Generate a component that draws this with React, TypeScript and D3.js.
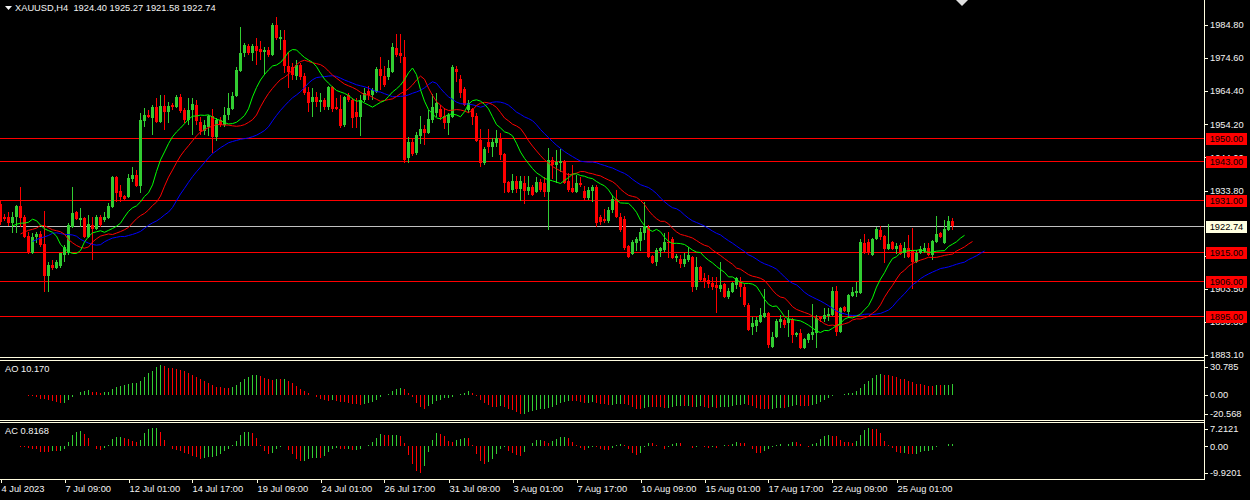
import React, { useEffect, useRef } from "react";
import * as d3 from "d3";

// XAUUSD H4 candles (oldest first)
const opens = [
  1929.6, 1925.6, 1925.6, 1923.8, 1925.6, 1929.0, 1925.6, 1919.8, 1914.5, 1919.5,
  1920.4, 1917.3, 1907.4, 1910.8, 1909.9, 1910.5, 1913.9, 1914.5, 1922.5, 1927.2,
  1924.7, 1925.3, 1919.5, 1923.2, 1921.9, 1925.6, 1924.7, 1925.3, 1928.7, 1938.0,
  1933.6, 1932.1, 1931.8, 1937.3, 1938.6, 1935.2, 1955.2, 1957.1, 1956.1, 1959.5,
  1954.9, 1959.8, 1958.0, 1960.1, 1959.5, 1962.6, 1958.6, 1955.5, 1958.6, 1960.1,
  1954.9, 1952.1, 1953.4, 1956.8, 1950.3, 1955.5, 1954.0, 1957.1, 1958.9, 1962.9,
  1970.6, 1976.2, 1978.3, 1976.2, 1978.3, 1977.4, 1976.5, 1977.1, 1975.5, 1984.8,
  1980.5, 1980.2, 1972.2, 1971.9, 1969.1, 1972.5, 1969.1, 1964.1, 1961.1, 1962.6,
  1961.1, 1961.7, 1959.5, 1965.7, 1959.5, 1958.9, 1954.0, 1963.2, 1961.7, 1958.0,
  1956.4, 1961.7, 1964.5, 1963.2, 1964.1, 1971.2, 1969.1, 1968.8, 1970.3, 1977.7,
  1976.2, 1974.9, 1943.8, 1948.7, 1945.4, 1950.6, 1952.7, 1951.5, 1955.5, 1957.7,
  1958.9, 1956.8, 1954.6, 1956.4, 1971.2, 1968.2, 1965.1, 1958.6, 1958.9, 1956.8,
  1949.4, 1942.3, 1948.7, 1947.2, 1948.4, 1950.0, 1945.0, 1936.4, 1934.0, 1936.7,
  1934.3, 1936.1, 1933.6, 1934.9, 1933.3, 1936.4, 1936.1, 1933.3, 1943.2, 1941.6,
  1942.3, 1942.9, 1936.7, 1934.6, 1933.3, 1936.1, 1933.6, 1931.5, 1933.6, 1934.9,
  1925.6, 1925.0, 1924.4, 1927.8, 1931.2, 1925.6, 1925.0, 1916.7, 1914.2, 1917.6,
  1918.2, 1920.7, 1922.5, 1913.6, 1911.8, 1915.1, 1915.5, 1917.9, 1918.8, 1913.0,
  1912.7, 1911.1, 1912.4, 1913.3, 1904.0, 1910.2, 1906.8, 1906.2, 1905.3, 1904.7,
  1903.4, 1905.0, 1901.0, 1902.5, 1904.7, 1905.9, 1904.0, 1898.5, 1891.7, 1892.0,
  1893.3, 1894.8, 1896.0, 1885.6, 1888.6, 1893.3, 1893.9, 1893.0, 1894.2, 1889.3,
  1889.9, 1885.3, 1887.7, 1889.3, 1889.9, 1894.8, 1894.2, 1895.1, 1895.4, 1902.8,
  1890.2, 1897.9, 1896.3, 1901.3, 1902.2, 1902.2, 1917.6, 1917.9, 1913.9, 1918.8,
  1921.6, 1919.8, 1915.8, 1917.9, 1915.8, 1917.0, 1914.5, 1916.1, 1915.5, 1911.8,
  1914.5, 1915.1, 1916.1, 1913.9, 1917.9, 1920.7, 1917.6, 1921.6, 1924.40,
];
const highs = [
  1930.9, 1926.5, 1927.2, 1927.2, 1929.3, 1934.9, 1926.2, 1921.0, 1920.7, 1921.0,
  1921.3, 1927.5, 1911.8, 1912.4, 1912.4, 1914.5, 1917.0, 1923.8, 1934.9, 1927.5,
  1928.4, 1925.6, 1926.2, 1925.6, 1926.2, 1926.2, 1927.2, 1929.9, 1938.3, 1938.3,
  1935.5, 1932.4, 1938.9, 1941.0, 1940.1, 1957.7, 1959.2, 1958.6, 1960.1, 1962.3,
  1963.2, 1963.2, 1961.1, 1960.8, 1963.2, 1963.5, 1959.2, 1962.3, 1962.3, 1961.7,
  1956.4, 1955.5, 1957.1, 1958.9, 1956.1, 1956.4, 1959.5, 1963.8, 1964.1, 1971.9,
  1984.2, 1979.3, 1978.9, 1978.9, 1980.8, 1979.9, 1978.0, 1978.0, 1985.4, 1987.3,
  1983.3, 1983.3, 1976.5, 1973.1, 1974.0, 1973.1, 1970.0, 1965.7, 1965.4, 1964.1,
  1963.8, 1962.3, 1966.0, 1966.0, 1962.3, 1963.2, 1962.9, 1963.8, 1962.3, 1962.3,
  1963.2, 1965.4, 1966.0, 1965.4, 1971.9, 1974.9, 1972.2, 1974.0, 1979.3, 1982.0,
  1982.0, 1980.2, 1950.3, 1950.0, 1951.8, 1956.8, 1954.0, 1958.6, 1963.5, 1963.8,
  1960.1, 1959.2, 1957.7, 1972.5, 1972.2, 1969.4, 1965.7, 1961.7, 1959.2, 1957.7,
  1952.7, 1947.2, 1952.7, 1950.0, 1952.4, 1951.5, 1945.4, 1936.7, 1938.9, 1938.3,
  1938.3, 1938.3, 1938.3, 1935.5, 1938.0, 1937.3, 1938.0, 1946.9, 1944.1, 1946.3,
  1946.6, 1943.2, 1939.2, 1941.6, 1938.6, 1938.0, 1935.2, 1934.9, 1935.5, 1935.5,
  1926.2, 1928.1, 1928.7, 1932.4, 1934.0, 1926.9, 1925.9, 1917.0, 1918.5, 1919.5,
  1922.2, 1930.2, 1923.2, 1913.9, 1916.1, 1916.4, 1920.7, 1921.0, 1919.5, 1914.2,
  1913.9, 1914.5, 1916.4, 1913.6, 1913.3, 1910.5, 1908.4, 1907.7, 1907.1, 1907.1,
  1911.8, 1905.3, 1903.7, 1905.6, 1907.1, 1907.1, 1905.0, 1899.1, 1894.8, 1894.8,
  1897.6, 1903.4, 1896.3, 1890.2, 1894.2, 1895.4, 1894.5, 1897.0, 1894.5, 1890.2,
  1891.1, 1888.3, 1889.9, 1898.8, 1895.4, 1895.1, 1897.6, 1897.6, 1904.0, 1904.4,
  1897.9, 1898.2, 1901.9, 1904.0, 1905.6, 1918.8, 1920.4, 1918.8, 1919.2, 1922.5,
  1922.8, 1920.1, 1923.5, 1918.2, 1917.6, 1917.6, 1917.9, 1920.1, 1922.2, 1915.5,
  1916.7, 1917.6, 1917.6, 1918.5, 1925.9, 1921.0, 1924.7, 1925.9, 1925.27,
];
const lows = [
  1923.2, 1924.4, 1922.8, 1920.7, 1920.7, 1922.5, 1919.2, 1914.2, 1914.2, 1917.6,
  1916.4, 1902.5, 1902.5, 1909.3, 1909.6, 1909.9, 1911.8, 1913.9, 1922.2, 1924.7,
  1922.5, 1919.2, 1919.2, 1912.4, 1921.6, 1922.5, 1924.1, 1925.0, 1928.4, 1930.2,
  1930.2, 1930.6, 1931.5, 1936.4, 1934.9, 1933.0, 1953.4, 1956.1, 1950.9, 1954.6,
  1954.6, 1952.4, 1954.6, 1958.6, 1959.2, 1957.7, 1954.6, 1954.0, 1950.9, 1954.0,
  1950.9, 1950.9, 1950.6, 1945.4, 1949.0, 1953.4, 1953.4, 1955.5, 1958.6, 1962.6,
  1970.3, 1974.9, 1975.5, 1973.7, 1972.5, 1974.0, 1969.4, 1974.9, 1975.2, 1980.2,
  1977.1, 1970.0, 1965.4, 1967.8, 1967.8, 1967.8, 1963.2, 1958.0, 1956.4, 1959.5,
  1958.0, 1958.6, 1958.6, 1958.0, 1958.6, 1953.0, 1953.4, 1961.1, 1953.0, 1953.0,
  1950.6, 1961.1, 1961.7, 1961.7, 1963.8, 1964.8, 1965.7, 1967.8, 1970.0, 1974.9,
  1973.1, 1942.3, 1942.3, 1944.4, 1944.7, 1948.1, 1947.8, 1951.2, 1954.6, 1956.4,
  1955.5, 1952.7, 1950.9, 1956.1, 1967.2, 1962.3, 1959.8, 1957.7, 1954.0, 1948.7,
  1941.0, 1941.6, 1945.4, 1944.1, 1947.2, 1943.2, 1933.0, 1933.0, 1933.0, 1933.0,
  1930.6, 1929.6, 1932.4, 1932.1, 1933.0, 1933.3, 1931.8, 1921.6, 1937.3, 1936.1,
  1939.5, 1935.8, 1933.3, 1933.0, 1933.0, 1934.9, 1930.9, 1930.9, 1930.2, 1922.5,
  1923.2, 1923.8, 1923.8, 1926.9, 1925.3, 1921.0, 1915.5, 1913.0, 1913.9, 1915.1,
  1915.1, 1918.5, 1913.0, 1911.1, 1910.5, 1913.3, 1914.8, 1913.0, 1912.7, 1911.8,
  1909.9, 1910.2, 1911.8, 1902.5, 1903.1, 1905.9, 1903.7, 1903.7, 1903.1, 1896.0,
  1902.5, 1900.7, 1900.4, 1902.2, 1903.4, 1901.0, 1897.9, 1890.5, 1889.3, 1890.2,
  1893.0, 1894.5, 1885.3, 1885.3, 1888.3, 1891.4, 1891.4, 1888.6, 1886.8, 1888.6,
  1884.9, 1884.9, 1886.8, 1887.7, 1885.3, 1893.3, 1893.3, 1893.6, 1895.1, 1889.0,
  1889.9, 1896.3, 1894.5, 1901.0, 1901.0, 1901.9, 1914.2, 1913.9, 1913.6, 1918.5,
  1918.5, 1911.4, 1915.5, 1915.5, 1914.2, 1913.9, 1913.0, 1913.0, 1903.4, 1911.4,
  1914.2, 1914.5, 1913.6, 1912.4, 1917.6, 1919.2, 1917.3, 1921.3, 1921.58,
];
const closes = [
  1924.1, 1925.0, 1923.8, 1925.6, 1929.0, 1925.3, 1919.5, 1914.5, 1919.5, 1920.4,
  1917.0, 1907.4, 1910.8, 1909.9, 1911.8, 1914.5, 1916.4, 1923.2, 1926.9, 1925.0,
  1925.3, 1919.5, 1923.5, 1921.9, 1925.6, 1923.2, 1925.6, 1929.0, 1938.0, 1933.0,
  1931.8, 1931.2, 1937.6, 1938.6, 1935.2, 1955.5, 1957.1, 1956.4, 1959.5, 1954.9,
  1959.8, 1958.0, 1959.8, 1959.5, 1962.6, 1958.3, 1955.5, 1958.6, 1960.4, 1955.2,
  1952.1, 1954.0, 1956.8, 1950.3, 1955.5, 1954.0, 1957.1, 1959.2, 1962.9, 1970.9,
  1976.2, 1978.6, 1976.2, 1978.3, 1976.8, 1976.5, 1977.1, 1975.5, 1984.8, 1980.8,
  1981.1, 1972.2, 1970.3, 1969.4, 1972.5, 1968.8, 1963.8, 1960.8, 1962.6, 1961.1,
  1961.7, 1959.5, 1965.7, 1958.9, 1958.9, 1953.7, 1962.6, 1961.7, 1956.1, 1956.4,
  1961.7, 1963.8, 1963.2, 1964.8, 1971.2, 1969.1, 1966.3, 1971.5, 1978.0, 1975.5,
  1975.2, 1943.2, 1948.7, 1945.0, 1950.9, 1952.7, 1951.5, 1955.8, 1959.5, 1960.8,
  1956.4, 1954.6, 1957.1, 1971.9, 1970.3, 1963.8, 1960.1, 1960.8, 1956.4, 1949.0,
  1942.3, 1946.6, 1947.2, 1948.7, 1950.0, 1944.7, 1936.1, 1933.3, 1936.7, 1934.3,
  1936.7, 1933.6, 1934.9, 1932.4, 1936.4, 1934.0, 1933.3, 1943.2, 1941.6, 1942.6,
  1942.9, 1936.1, 1934.0, 1933.3, 1936.1, 1935.5, 1931.5, 1934.0, 1934.9, 1923.8,
  1924.1, 1924.4, 1927.8, 1931.2, 1925.6, 1921.6, 1916.1, 1913.3, 1917.9, 1918.8,
  1921.0, 1922.8, 1913.3, 1911.4, 1915.5, 1916.1, 1917.9, 1917.6, 1913.0, 1913.6,
  1911.1, 1912.7, 1913.9, 1904.0, 1910.2, 1906.2, 1905.6, 1905.0, 1904.0, 1903.7,
  1904.7, 1901.0, 1902.8, 1905.3, 1906.8, 1904.0, 1898.5, 1890.8, 1893.0, 1893.9,
  1895.4, 1896.0, 1886.2, 1888.6, 1893.6, 1894.2, 1892.3, 1894.2, 1889.3, 1889.9,
  1885.3, 1888.0, 1889.6, 1890.2, 1894.5, 1894.2, 1895.4, 1895.6, 1902.8, 1890.2,
  1897.6, 1896.7, 1901.6, 1902.5, 1902.8, 1917.9, 1914.5, 1914.5, 1918.8, 1921.9,
  1919.5, 1915.8, 1917.3, 1915.8, 1916.7, 1914.2, 1916.1, 1913.3, 1911.8, 1914.5,
  1915.8, 1916.1, 1913.9, 1918.2, 1920.4, 1919.5, 1921.9, 1924.4, 1922.74,
];

// Alligator lines where they start on the left edge (jaw, teeth, lips)
const alligatorSeeds = [1918.1, 1920.4, 1922.9];

const titleText = "XAUUSD,H4  1924.40 1925.27 1921.58 1922.74";
const levels = [1950, 1943, 1931, 1915, 1906, 1895];
const bidPrice = 1922.74;
const priceTicks = [1984.8, 1974.6, 1964.4, 1954.2, 1944.0, 1933.8, 1913.7, 1903.5, 1893.3, 1883.1];
const priceRange = [1882.5, 1992.5];
const timeLabels = [
  "4 Jul 2023", "7 Jul 09:00", "12 Jul 01:00", "14 Jul 17:00", "19 Jul 09:00",
  "24 Jul 01:00", "26 Jul 17:00", "31 Jul 09:00", "3 Aug 01:00", "7 Aug 17:00",
  "10 Aug 09:00", "15 Aug 01:00", "17 Aug 17:00", "22 Aug 09:00", "25 Aug 01:00",
];
const aoTicks = ["30.785", "0.00", "-20.568"];
const acTicks = ["7.2121", "0.00", "-9.9201"];
const aoTitle = "AO 10.170";
const acTitle = "AC 0.8168";

const FONT = "'Liberation Sans', Arial, sans-serif";
const FRAME = "#fffde0";
const TEXT = "#f4f4f4";
const BULL = "#32cd32";
const BEAR = "#ff0000";

const App: React.FC = () => {
  const ref = useRef<SVGSVGElement>(null);

  useEffect(() => {
    if (!ref.current) return;
    const svg = d3.select(ref.current);
    svg.selectAll("*").remove();

    const axisX = 1204;
    const main = { top: 0, bottom: 357 };
    const aoPane = { top: 359.5, bottom: 419.5 };
    const acPane = { top: 421.5, bottom: 479 };
    const barSlots = 301; // 4px per bar up to the price axis

    const x = d3.scaleLinear().domain([0, barSlots]).range([0.5, axisX + 0.5]);
    const y = d3.scaleLinear().domain(priceRange).range([main.bottom, main.top]);

    // indicators
    const median = highs.map((h, i) => (h + lows[i]) / 2);
    const smma = (n: number, seed: number) => {
      const out: number[] = [];
      median.forEach((v, i) => out.push(i === 0 ? seed : (out[i - 1] * (n - 1) + v) / n));
      return out;
    };
    const sma = (src: number[], n: number, i: number) =>
      d3.mean(src.slice(Math.max(0, i - n + 1), i + 1)) as number;
    const ao = median.map((_, i) => sma(median, 5, i) - sma(median, 34, i));
    const ac = ao.map((v, i) => v - sma(ao, 5, i));

    svg.append("rect").attr("width", 1250).attr("height", 500).attr("fill", "#000");

    svg.append("defs").append("clipPath").attr("id", "mainClip")
      .append("rect").attr("x", 0).attr("y", 0).attr("width", axisX).attr("height", main.bottom);

    const g = svg.append("g").attr("clip-path", "url(#mainClip)");

    // support / resistance lines
    g.selectAll(".lvl").data(levels).join("line")
      .attr("x1", 0).attr("x2", axisX)
      .attr("y1", d => Math.round(y(d)) + 0.5).attr("y2", d => Math.round(y(d)) + 0.5)
      .attr("stroke", "#ff0000").attr("shape-rendering", "crispEdges");
    g.append("line")
      .attr("x1", 0).attr("x2", axisX)
      .attr("y1", Math.round(y(bidPrice)) + 0.5).attr("y2", Math.round(y(bidPrice)) + 0.5)
      .attr("stroke", "#c0c0c0").attr("shape-rendering", "crispEdges");

    // candles
    const bars = closes.map((c, i) => ({ i, o: opens[i], h: highs[i], l: lows[i], c }));
    const cg = g.append("g").attr("shape-rendering", "crispEdges");
    cg.selectAll(".wick").data(bars).join("line")
      .attr("x1", d => x(d.i)).attr("x2", d => x(d.i))
      .attr("y1", d => y(d.h)).attr("y2", d => y(d.l))
      .attr("stroke", d => (d.c >= d.o ? BULL : BEAR));
    cg.selectAll(".body").data(bars).join("rect")
      .attr("x", d => x(d.i) - 1.5).attr("width", 3)
      .attr("y", d => y(Math.max(d.o, d.c)))
      .attr("height", d => Math.max(1, Math.abs(y(d.o) - y(d.c))))
      .attr("fill", d => (d.c >= d.o ? BULL : BEAR));

    // alligator: jaw 13/8, teeth 8/5, lips 5/3
    const alligator = [
      { n: 13, shift: 8, seed: alligatorSeeds[0], color: "#0000ff" },
      { n: 8, shift: 5, seed: alligatorSeeds[1], color: "#ff0000" },
      { n: 5, shift: 3, seed: alligatorSeeds[2], color: "#00ff00" },
    ];
    alligator.forEach(a => {
      const vals = smma(a.n, a.seed);
      const line = d3.line<number>().x((_, i) => x(i + a.shift)).y(v => y(v));
      g.append("path").attr("d", line(vals)).attr("fill", "none")
        .attr("stroke", a.color).attr("stroke-width", 1);
    });

    // price axis
    const text = (sel: d3.Selection<any, any, any, any>) =>
      sel.attr("font-family", FONT).attr("font-size", 9.3);
    svg.selectAll(".ptick").data(priceTicks).join("line")
      .attr("x1", axisX).attr("x2", axisX + 4)
      .attr("y1", d => Math.round(y(d)) + 0.5).attr("y2", d => Math.round(y(d)) + 0.5)
      .attr("stroke", FRAME).attr("shape-rendering", "crispEdges");
    svg.selectAll(".plabel").data(priceTicks).join("text")
      .attr("x", axisX + 6).attr("y", d => y(d)).attr("dy", "0.35em")
      .attr("fill", TEXT).text(d => d3.format(".2f")(d)).call(text);

    const tagLevels = levels.map(v => ({ v, bg: "#ff0000" })).concat([{ v: bidPrice, bg: "#ffffe0" }]);
    const tags = svg.selectAll(".tag").data(tagLevels).join("g")
      .attr("transform", d => `translate(${axisX + 2},${Math.round(y(d.v)) - 5})`);
    tags.append("rect").attr("width", 41).attr("height", 12).attr("fill", d => d.bg);
    tags.append("text").attr("x", 20.5).attr("y", 6).attr("dy", "0.36em")
      .attr("text-anchor", "middle").attr("fill", "#000")
      .text(d => d3.format(".2f")(d.v)).call(text);

    // oscillator panes
    const pane = (
      vals: number[], ticks: string[], p: { top: number; bottom: number }, title: string,
    ) => {
      const lo = +ticks[2], hi = +ticks[0];
      const ys = d3.scaleLinear().domain([lo, hi]).range([p.bottom - 3.5, p.top + 3.5]);
      const pg = svg.append("g").attr("shape-rendering", "crispEdges");
      pg.selectAll("line").data(vals).join("line")
        .attr("x1", (_, i) => x(i)).attr("x2", (_, i) => x(i))
        .attr("y1", ys(0)).attr("y2", d => ys(Math.max(lo, Math.min(hi, d))))
        .attr("stroke", (d, i) => (i > 0 && d < vals[i - 1] ? BEAR : BULL));
      svg.append("text").attr("x", 5).attr("y", p.top + 12).attr("fill", TEXT)
        .text(title).call(text);
      ticks.forEach(t => {
        const ty = Math.max(p.top + 7, Math.min(p.bottom - 6, ys(+t)));
        svg.append("line").attr("x1", axisX).attr("x2", axisX + 4)
          .attr("y1", Math.round(ty) + 0.5).attr("y2", Math.round(ty) + 0.5)
          .attr("stroke", FRAME).attr("shape-rendering", "crispEdges");
        svg.append("text").attr("x", axisX + 6).attr("y", ty).attr("dy", "0.35em")
          .attr("fill", TEXT).text(t).call(text);
      });
    };
    pane(ao, aoTicks, aoPane, aoTitle);
    pane(ac, acTicks, acPane, acTitle);

    // frames
    const frame = svg.append("g").attr("stroke", FRAME).attr("shape-rendering", "crispEdges");
    [main.bottom, aoPane.top, aoPane.bottom, acPane.top, acPane.bottom].forEach(v => {
      frame.append("line").attr("x1", 0).attr("x2", axisX).attr("y1", Math.round(v) + 0.5).attr("y2", Math.round(v) + 0.5);
    });
    frame.append("line").attr("x1", axisX + 0.5).attr("x2", axisX + 0.5).attr("y1", 0).attr("y2", acPane.bottom + 1);

    // time axis
    const tg = svg.selectAll(".time").data(timeLabels).join("g")
      .attr("transform", (_, i) => `translate(${Math.round(x(i * 16)) + 0.5},0)`);
    tg.append("line").attr("y1", acPane.bottom).attr("y2", acPane.bottom + 4)
      .attr("stroke", FRAME).attr("shape-rendering", "crispEdges");
    tg.append("text").attr("x", 0).attr("y", acPane.bottom + 13).attr("fill", TEXT)
      .text(d => d).call(text);

    // title
    svg.append("path").attr("d", "M5,6 L12,6 L8.5,10 Z").attr("fill", TEXT);
    svg.append("text").attr("x", 15).attr("y", 11).attr("fill", TEXT)
      .attr("xml:space", "preserve").style("white-space", "pre").text(titleText).call(text);
    // chart shift marker
    svg.append("path").attr("d", "M956,0 L968,0 L962,6 Z").attr("fill", "#e0e0e0");
  }, []);

  return (
    <>
      <style>{`body{margin:0;background:#000}`}</style>
      <svg ref={ref} width={1250} height={500} style={{ display: "block" }} />
    </>
  );
};

export default App;
